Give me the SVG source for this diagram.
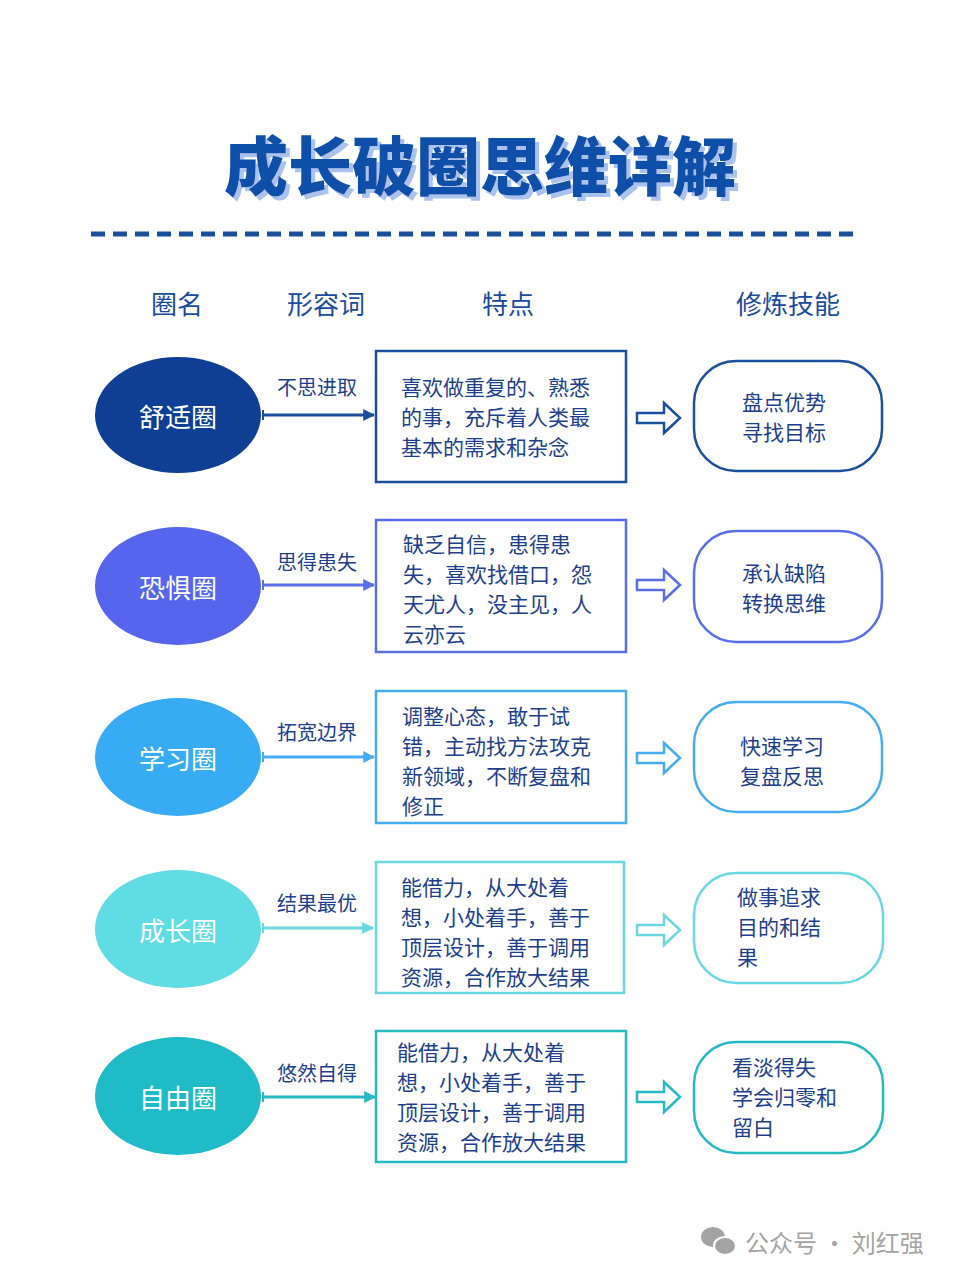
<svg xmlns="http://www.w3.org/2000/svg" width="960" height="1280" viewBox="0 0 960 1280">
<style>
text{font-family:"Noto Sans CJK SC","Noto Sans",sans-serif;dominant-baseline:central}
.title{font-size:64px;font-weight:900;fill:#114fa9;text-anchor:middle}
.hdr{font-size:26px;fill:#1a4c9e;text-anchor:middle}
.circ{font-size:26px;fill:#ffffff;text-anchor:middle}
.lbl{font-size:20px;fill:#1e3f8c}
.txt{font-size:21px;fill:#1e3f8c}
.box{fill:#ffffff;stroke-width:2.5}
.rbox{fill:#ffffff;stroke-width:2.5}
.conn{stroke-width:3;fill:none}
.hol{fill:#ffffff;stroke-width:2.5;stroke-linejoin:miter}
.wm{font-size:24px;fill:#a3a3a3}
</style>
<defs>
<filter id="tshadow" x="-5%" y="-20%" width="110%" height="140%">
<feOffset in="SourceAlpha" dx="4" dy="4" result="off"/>
<feFlood flood-color="#a9c3ee"/>
<feComposite in2="off" operator="in" result="sh"/>
<feMerge><feMergeNode in="sh"/><feMergeNode in="SourceGraphic"/></feMerge>
</filter>
<marker id="ah1" viewBox="0 0 10 10" refX="9" refY="5" markerWidth="4" markerHeight="4" orient="auto"><path d="M0,0 L10,5 L0,10 z" fill="#1b4f9c"/></marker>
<marker id="ah2" viewBox="0 0 10 10" refX="9" refY="5" markerWidth="4" markerHeight="4" orient="auto"><path d="M0,0 L10,5 L0,10 z" fill="#5a6ee8"/></marker>
<marker id="ah3" viewBox="0 0 10 10" refX="9" refY="5" markerWidth="4" markerHeight="4" orient="auto"><path d="M0,0 L10,5 L0,10 z" fill="#46aef0"/></marker>
<marker id="ah4" viewBox="0 0 10 10" refX="9" refY="5" markerWidth="4" markerHeight="4" orient="auto"><path d="M0,0 L10,5 L0,10 z" fill="#6ad8e0"/></marker>
<marker id="ah5" viewBox="0 0 10 10" refX="9" refY="5" markerWidth="4" markerHeight="4" orient="auto"><path d="M0,0 L10,5 L0,10 z" fill="#25bac4"/></marker>
<path id="hollow" d="M0,-5 L27,-5 L27,-15 L43,0 L27,15 L27,5 L0,5 z"/>
</defs>
<rect width="960" height="1280" fill="#ffffff"/>

<g id="title">
<text class="title" x="480" y="162" filter="url(#tshadow)">成长破圈思维详解</text>
<line x1="91" y1="234" x2="853" y2="234" stroke="#1b4f9c" stroke-width="5" stroke-dasharray="14 8"/>
</g>

<g id="headers">
<text class="hdr" x="177" y="302">圈名</text>
<text class="hdr" x="326" y="302">形容词</text>
<text class="hdr" x="508" y="302">特点</text>
<text class="hdr" x="788" y="302">修炼技能</text>
</g>

<g id="connectors">
<line class="conn" x1="263" y1="415" x2="374" y2="415" stroke="#1b4f9c" marker-end="url(#ah1)"/>
<line x1="263" y1="410" x2="263" y2="420" stroke="#1b4f9c" stroke-width="2"/>
<line class="conn" x1="263" y1="585" x2="374" y2="585" stroke="#5a6ee8" marker-end="url(#ah2)"/>
<line x1="263" y1="580" x2="263" y2="590" stroke="#5a6ee8" stroke-width="2"/>
<line class="conn" x1="263" y1="757" x2="374" y2="757" stroke="#46aef0" marker-end="url(#ah3)"/>
<line x1="263" y1="752" x2="263" y2="762" stroke="#46aef0" stroke-width="2"/>
<line class="conn" x1="263" y1="928" x2="373" y2="928" stroke="#6ad8e0" marker-end="url(#ah4)"/>
<line x1="263" y1="923" x2="263" y2="933" stroke="#6ad8e0" stroke-width="2"/>
<line class="conn" x1="263" y1="1097" x2="375" y2="1097" stroke="#25bac4" marker-end="url(#ah5)"/>
<line x1="263" y1="1092" x2="263" y2="1102" stroke="#25bac4" stroke-width="2"/>
<use href="#hollow" x="637" y="418" class="hol" stroke="#1b4f9c"/>
<use href="#hollow" x="637" y="585" class="hol" stroke="#5a6ee8"/>
<use href="#hollow" x="637" y="758" class="hol" stroke="#46aef0"/>
<use href="#hollow" x="637" y="930" class="hol" stroke="#6ad8e0"/>
<use href="#hollow" x="637" y="1097" class="hol" stroke="#25bac4"/>
</g>

<g id="row1">
<ellipse cx="178" cy="415" rx="83" ry="58" fill="#0e3f95"/>
<text class="circ" x="178" y="415">舒适圈</text>
<text class="lbl" x="277" y="386">不思进取</text>
<rect class="box" x="376" y="351" width="250" height="131" stroke="#1b4f9c"/>
<text class="txt" x="401" y="386">喜欢做重复的、熟悉</text>
<text class="txt" x="401" y="416">的事，充斥着人类最</text>
<text class="txt" x="401" y="446">基本的需求和杂念</text>
<rect class="rbox" x="694" y="361" width="188" height="110" rx="42" stroke="#1b4f9c"/>
<text class="txt" x="742" y="401">盘点优势</text>
<text class="txt" x="742" y="431">寻找目标</text>
</g>

<g id="row2">
<ellipse cx="178" cy="586" rx="83" ry="59" fill="#5565ee"/>
<text class="circ" x="178" y="586">恐惧圈</text>
<text class="lbl" x="277" y="561">思得患失</text>
<rect class="box" x="376" y="520" width="250" height="132" stroke="#5a6ee8"/>
<text class="txt" x="403" y="543">缺乏自信，患得患</text>
<text class="txt" x="403" y="573">失，喜欢找借口，怨</text>
<text class="txt" x="403" y="603">天尤人，没主见，人</text>
<text class="txt" x="403" y="633">云亦云</text>
<rect class="rbox" x="694" y="531" width="188" height="111" rx="42" stroke="#5a6ee8"/>
<text class="txt" x="742" y="572">承认缺陷</text>
<text class="txt" x="742" y="602">转换思维</text>
</g>

<g id="row3">
<ellipse cx="178" cy="757" rx="83" ry="59" fill="#37acf5"/>
<text class="circ" x="178" y="757">学习圈</text>
<text class="lbl" x="277" y="731">拓宽边界</text>
<rect class="box" x="376" y="691" width="250" height="132" stroke="#46aef0"/>
<text class="txt" x="402" y="715">调整心态，敢于试</text>
<text class="txt" x="402" y="745">错，主动找方法攻克</text>
<text class="txt" x="402" y="775">新领域，不断复盘和</text>
<text class="txt" x="402" y="805">修正</text>
<rect class="rbox" x="694" y="702" width="188" height="110" rx="42" stroke="#46aef0"/>
<text class="txt" x="740" y="745">快速学习</text>
<text class="txt" x="740" y="775">复盘反思</text>
</g>

<g id="row4">
<ellipse cx="178" cy="929" rx="83" ry="59" fill="#5fdce4"/>
<text class="circ" x="178" y="929">成长圈</text>
<text class="lbl" x="277" y="902">结果最优</text>
<rect class="box" x="376" y="862" width="248" height="131" stroke="#6ad8e0"/>
<text class="txt" x="401" y="886">能借力，从大处着</text>
<text class="txt" x="401" y="916">想，小处着手，善于</text>
<text class="txt" x="401" y="946">顶层设计，善于调用</text>
<text class="txt" x="401" y="976">资源，合作放大结果</text>
<rect class="rbox" x="694" y="873" width="189" height="110" rx="42" stroke="#6ad8e0"/>
<text class="txt" x="737" y="896">做事追求</text>
<text class="txt" x="737" y="926">目的和结</text>
<text class="txt" x="737" y="956">果</text>
</g>

<g id="row5">
<ellipse cx="178" cy="1096" rx="83" ry="59" fill="#1fbcc7"/>
<text class="circ" x="178" y="1096">自由圈</text>
<text class="lbl" x="277" y="1072">悠然自得</text>
<rect class="box" x="376" y="1031" width="250" height="131" stroke="#25bac4"/>
<text class="txt" x="397" y="1051">能借力，从大处着</text>
<text class="txt" x="397" y="1081">想，小处着手，善于</text>
<text class="txt" x="397" y="1111">顶层设计，善于调用</text>
<text class="txt" x="397" y="1141">资源，合作放大结果</text>
<rect class="rbox" x="694" y="1042" width="189" height="111" rx="42" stroke="#25bac4"/>
<text class="txt" x="732" y="1066">看淡得失</text>
<text class="txt" x="732" y="1096">学会归零和</text>
<text class="txt" x="732" y="1126">留白</text>
</g>

<g id="watermark">
<ellipse cx="713" cy="1237" rx="12" ry="10" fill="#a3a3a3"/>
<ellipse cx="725" cy="1246" rx="11" ry="9" fill="#a3a3a3" stroke="#ffffff" stroke-width="2"/>
<text class="wm" x="745" y="1241">公众号 · 刘红强</text>
</g>
</svg>
